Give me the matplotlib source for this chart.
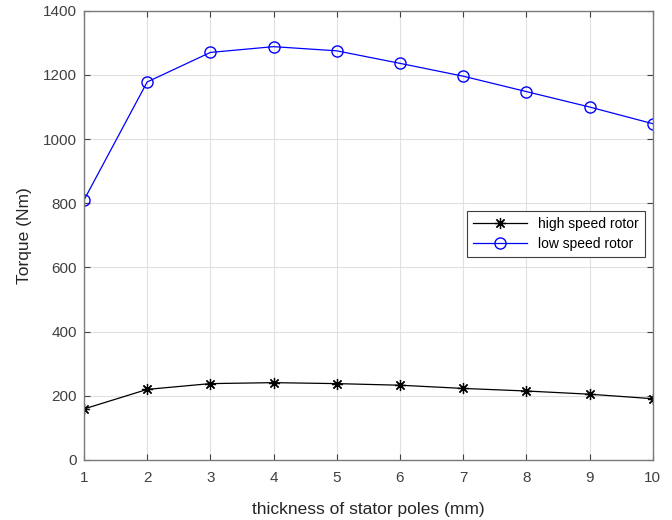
import matplotlib
matplotlib.use("Agg")
import matplotlib.pyplot as plt

plt.rcParams['font.family'] = ['Liberation Sans', 'DejaVu Sans']

thickness = [1, 2, 3, 4, 5, 6, 7, 8, 9, 10]
high_speed = [159, 220, 238, 241, 238, 233, 223, 215, 205, 191]
low_speed = [810, 1178, 1270, 1288, 1275, 1236, 1196, 1148, 1100, 1048]
yticks = [0, 200, 400, 600, 800, 1000, 1200, 1400]

fig = plt.figure(figsize=(6.72, 5.2), dpi=100)
ax = fig.add_axes([0.125, 0.1154, 0.8463, 0.864])

ax.plot(thickness, high_speed, color='black', marker=(8, 2, 0), markersize=8,
        markeredgewidth=0.9, linewidth=0.9, label='high speed rotor')
ax.plot(thickness, low_speed, color='blue', marker='o', markersize=8,
        markerfacecolor='none', linewidth=0.9, label='low speed rotor')

ax.set_xlim(1, 10)
ax.set_ylim(0, 1400)
ax.set_xticks(thickness)
ax.set_yticks(yticks)
ax.grid(True, color='#e0e0e0', linewidth=0.8)
ax.set_axisbelow(True)
for s in ax.spines.values():
    s.set_color('#7a7a7a')
    s.set_linewidth(1.0)
ax.tick_params(direction='in', top=True, right=True, labelsize=11,
               colors='#404040', length=4)
ax.tick_params(axis='x', pad=8)
ax.tick_params(axis='y', pad=5)
ax.set_xlabel('thickness of stator poles (mm)', fontsize=12.5, color='#262626',
              labelpad=12)
ax.set_ylabel('Torque (Nm)', fontsize=12.5, color='#262626', labelpad=8)

leg = ax.legend(loc='upper right', bbox_to_anchor=(0.9995, 0.57), fontsize=10,
                fancybox=False, edgecolor='#404040', framealpha=1,
                handlelength=3.9, borderpad=0.45, labelspacing=0.4)
leg.get_frame().set_linewidth(0.8)

fig.savefig('out.png', dpi=100)
